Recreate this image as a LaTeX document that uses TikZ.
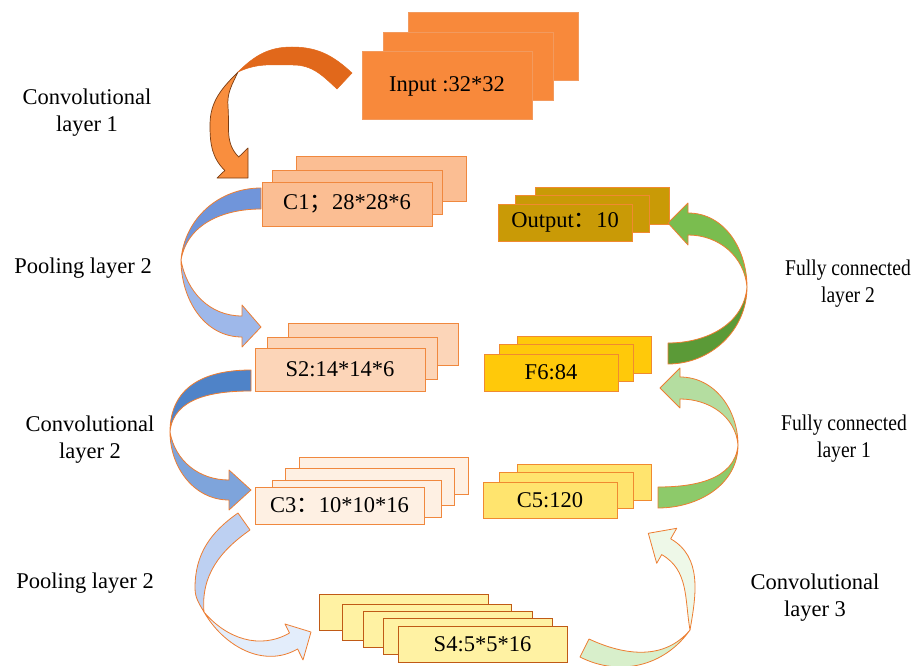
\documentclass[tikz,border=0pt]{standalone}
\usepackage{fontspec}
\setmainfont{Liberation Serif}
\newfontfamily\cjk{Noto Sans CJK SC}
\definecolor{inputfill}{HTML}{F8893B}
\definecolor{inputdraw}{HTML}{F29A5E}
\definecolor{cfill}{HTML}{FBBE93}
\definecolor{sfill}{HTML}{FCD5B8}
\definecolor{cthree}{HTML}{FEF0E3}
\definecolor{boxdraw}{HTML}{F0883E}
\definecolor{sfour}{HTML}{FFF2A3}
\definecolor{sfourdraw}{HTML}{C05A16}
\definecolor{outfill}{HTML}{C99A06}
\definecolor{fsix}{HTML}{FFC90A}
\definecolor{cfive}{HTML}{FFE46E}
\definecolor{ydraw}{HTML}{F08A30}
\definecolor{aonedark}{HTML}{E1681B}
\definecolor{aonelight}{HTML}{F98E3E}
\definecolor{aoneline}{HTML}{7A3C12}
\definecolor{atwodark}{HTML}{7095DA}
\definecolor{atwolight}{HTML}{9EB8EA}
\definecolor{athreedark}{HTML}{4F83C8}
\definecolor{athreelight}{HTML}{7EA4DB}
\definecolor{afourup}{HTML}{BDD0F2}
\definecolor{afourlow}{HTML}{E3EDFB}
\definecolor{afivelow}{HTML}{D8EFCB}
\definecolor{afiveup}{HTML}{EEF8E8}
\definecolor{asixlow}{HTML}{8DCA6A}
\definecolor{asixup}{HTML}{B4DDA0}
\definecolor{asevenlow}{HTML}{5B9A37}
\definecolor{asevenup}{HTML}{7ABD4F}
\definecolor{arrline}{HTML}{ED7D31}
\begin{document}
\begin{tikzpicture}[x=1pt,y=1pt,
  lay/.style={draw=boxdraw, line width=1pt, anchor=north west, inner sep=0pt, outer sep=0pt,
              font=\fontsize{22.5}{27}\selectfont},
  inbox/.style={lay, fill=inputfill, draw=inputdraw, minimum width=170pt, minimum height=68pt},
  conebox/.style={lay, fill=cfill, minimum width=170pt, minimum height=44pt},
  stwobox/.style={lay, fill=sfill, minimum width=170pt, minimum height=42pt},
  cthreebox/.style={lay, fill=cthree, minimum width=169pt, minimum height=37pt},
  sfourbox/.style={lay, fill=sfour, draw=sfourdraw, minimum width=169pt, minimum height=36pt},
  outbox/.style={lay, fill=outfill, draw=ydraw, minimum width=134pt, minimum height=37pt},
  fsixbox/.style={lay, fill=fsix, draw=ydraw, minimum width=134pt, minimum height=37pt},
  cfivebox/.style={lay, fill=cfive, draw=ydraw, minimum width=134pt, minimum height=36pt},
  lbl/.style={align=center, font=\fontsize{22.5}{27}\selectfont, inner sep=0pt},
  narrowlbl/.style={lbl, transform shape, xscale=0.87},
  band/.style={draw=arrline, line width=0.8pt, line join=round}
]
\useasboundingbox (0,0) rectangle (913,-666);

% ---- stacks of feature maps ----
\node[inbox] (in3) at (408,-13) {};
\node[inbox] (in2) at (383,-33) {};
\node[inbox] (in1) at (362,-52) {Input :32*32};

\node[conebox] (c1c) at (296,-157) {};
\node[conebox] (c1b) at (272,-170) {};
\node[conebox] (c1a) at (262,-182) {C1{\cjk ；}28*28*6};

\node[stwobox] (s2c) at (288,-323) {};
\node[stwobox] (s2b) at (267,-337) {};
\node[stwobox, minimum height=43pt] (s2a) at (255,-348) {S2:14*14*6};

\node[cthreebox] (c3d) at (299,-457) {};
\node[cthreebox] (c3c) at (285,-468) {};
\node[cthreebox] (c3b) at (272,-480) {};
\node[cthreebox] (c3a) at (255,-487) {C3{\cjk ：}10*10*16};

\node[sfourbox] (s4e) at (319,-594) {};
\node[sfourbox] (s4d) at (342,-604) {};
\node[sfourbox] (s4c) at (363,-611) {};
\node[sfourbox] (s4b) at (383,-618) {};
\node[sfourbox] (s4a) at (398,-626) {S4:5*5*16};

\node[cfivebox] (c5c) at (517,-464) {};
\node[cfivebox] (c5b) at (499,-472) {};
\node[cfivebox] (c5a) at (483,-482) {C5:120};

\node[fsixbox] (f6c) at (517,-336) {};
\node[fsixbox] (f6b) at (499,-344) {};
\node[fsixbox] (f6a) at (484,-354) {F6:84};

\node[outbox] (outc) at (535,-187) {};
\node[outbox] (outb) at (515,-195) {};
\node[outbox] (outa) at (498,-204) {Output{\cjk ：}10};

% ---- labels ----
\node[lbl] (l1) at (87,-113) {Convolutional\\layer 1};
\node[lbl] (l2) at (83,-268) {Pooling layer 2};
\node[lbl] (l3) at (90,-440) {Convolutional\\layer 2};
\node[lbl] (l4) at (85,-583) {Pooling layer 2};
\node[narrowlbl] (l5) at (848,-284) {Fully connected\\layer 2};
\node[narrowlbl] (l6) at (844,-439) {Fully connected\\layer 1};
\node[lbl] (l7) at (815,-598) {Convolutional\\layer 3};

% ---- arrow 1: input -> C1 (orange) ----
\fill[aonedark, draw=aonedark, line width=0.5pt]
  (352,-73) to[out=137,in=0] (292,-47) to[out=180,in=45] (238,-72)
  to[out=25,in=180] (293,-65) to[out=0,in=137] (337,-89) -- cycle;
\filldraw[fill=aonelight, draw=aoneline, line width=0.7pt, line join=round]
  (238,-72) to[out=225,in=90] (210,-125) to[out=270,in=135] (224.8,-170.5)
  -- (217,-178) -- (248,-178) -- (248,-148) -- (238.7,-157)
  to[out=135,in=275] (228,-107) to[out=95,in=245] (238,-72) -- cycle;

% ---- arrow 2: C1 -> S2 (blue) ----
\filldraw[band, fill=atwodark]
  (261,-188) to[out=180,in=85] (181,-260) to[out=80,in=180] (261,-209) -- cycle;
\filldraw[band, fill=atwolight]
  (181,-260) to[out=-90,in=180] (242,-337) -- (242,-347) -- (261,-327) -- (242,-305)
  -- (242,-316) to[out=180,in=-80] (181,-260) -- cycle;

% ---- arrow 3: S2 -> C3 (blue) ----
\filldraw[band, fill=athreedark]
  (251,-370) to[out=180,in=90,looseness=1.15] (170,-432) to[out=85,in=180] (251,-391) -- cycle;
\filldraw[band, fill=athreelight]
  (170,-432) to[out=-90,in=180] (229,-500) -- (229,-510) -- (251,-490) -- (229,-470)
  -- (229,-480) to[out=180,in=-80] (170,-432) -- cycle;

% ---- arrow 4: C3 -> S4 (light blue) ----
\filldraw[band, fill=afourup]
  (238,-513) to[out=215,in=90] (195,-588) to[out=270,in=120] (204,-612)
  to[out=95,in=215] (250,-530) -- cycle;
\filldraw[band, fill=afourlow]
  (204,-612) to[out=-60,in=210] (297.6,-649) -- (303,-660) -- (311,-632) -- (285,-624)
  -- (289.5,-633) to[out=210,in=-50] (204,-612) -- cycle;

% ---- arrow 5: S4 -> C5 (light green) ----
\filldraw[band, fill=afivelow]
  (580,-657) to[out=-27,in=235] (690,-630) to[out=230,in=-25] (589,-639) -- cycle;
\filldraw[band, fill=afiveup]
  (690,-630) to[out=80,in=-30] (670.7,-538.8) -- (676.7,-528.3) -- (648.3,-533.3)
  -- (656.7,-563.3) -- (661.7,-554.6) to[out=-30,in=100] (690,-630) -- cycle;

% ---- arrow 6: C5 -> F6 (green) ----
\filldraw[band, fill=asixlow]
  (658,-508) to[out=0,in=270] (738,-445) to[out=265,in=0] (658,-487) -- cycle;
\filldraw[band, fill=asixup]
  (738,-445) to[out=90,in=0] (680,-377) -- (680,-368) -- (660,-388) -- (680,-408)
  -- (680,-399) to[out=0,in=95] (738,-445) -- cycle;

% ---- arrow 7: F6 -> Output (dark green) ----
\filldraw[band, fill=asevenlow]
  (668,-364) to[out=0,in=270] (747,-287) to[out=265,in=0] (668,-343) -- cycle;
\filldraw[band, fill=asevenup]
  (747,-287) to[out=90,in=0] (688,-213) -- (688,-203) -- (668,-223) -- (688,-245)
  -- (688,-235) to[out=0,in=95] (747,-287) -- cycle;
\end{tikzpicture}
\end{document}
